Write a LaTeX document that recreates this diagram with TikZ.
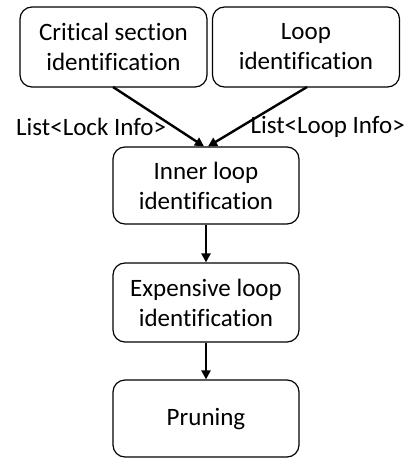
\documentclass[tikz,border=0pt]{standalone}
\usepackage{fontspec}
\setmainfont[Ligatures=NoCommon]{Carlito}
\usetikzlibrary{arrows.meta}
\begin{document}
\begin{tikzpicture}[x=1pt,y=-1pt,
  box/.style={draw, line width=1.2pt, rounded corners=12pt, inner sep=0pt, align=center, font=\fontsize{25}{30}\selectfont},
  flow/.style={line width=2.4pt, -{Triangle[length=9pt,width=9pt]}},
  lbl/.style={font=\fontsize{25}{30}\selectfont, inner sep=0pt}]
\useasboundingbox (0,0) rectangle (408,458);
\node[box, minimum width=187pt, minimum height=80pt] (cs) at (113.5,47) {Critical section\\identification};
\node[box, minimum width=187pt, minimum height=80pt] (li) at (306,47) {Loop\\identification};
\node[box, minimum width=186pt, minimum height=77pt] (il) at (206,185.5) {Inner loop\\identification};
\node[box, minimum width=186pt, minimum height=79pt] (el) at (206,302.5) {Expensive loop\\identification};
\node[box, minimum width=186pt, minimum height=77pt, text depth=0pt, text height=14pt] (pr) at (206,418.5) {Pruning};
\coordinate (a1) at (113,87);
\coordinate (a2) at (307,87);
\draw[flow] (a1) -- (il.north -| 204,0);
\draw[flow] (a2) -- (il.north -| 208,0);
\draw[flow] (il) -- (el);
\draw[flow] (el) -- (pr);
\node[lbl, anchor=west] (l1) at (16,127) {List<Lock Info>};
\node[lbl, anchor=east] (l2) at (405,127) {List<Loop Info>};
\end{tikzpicture}
\end{document}
